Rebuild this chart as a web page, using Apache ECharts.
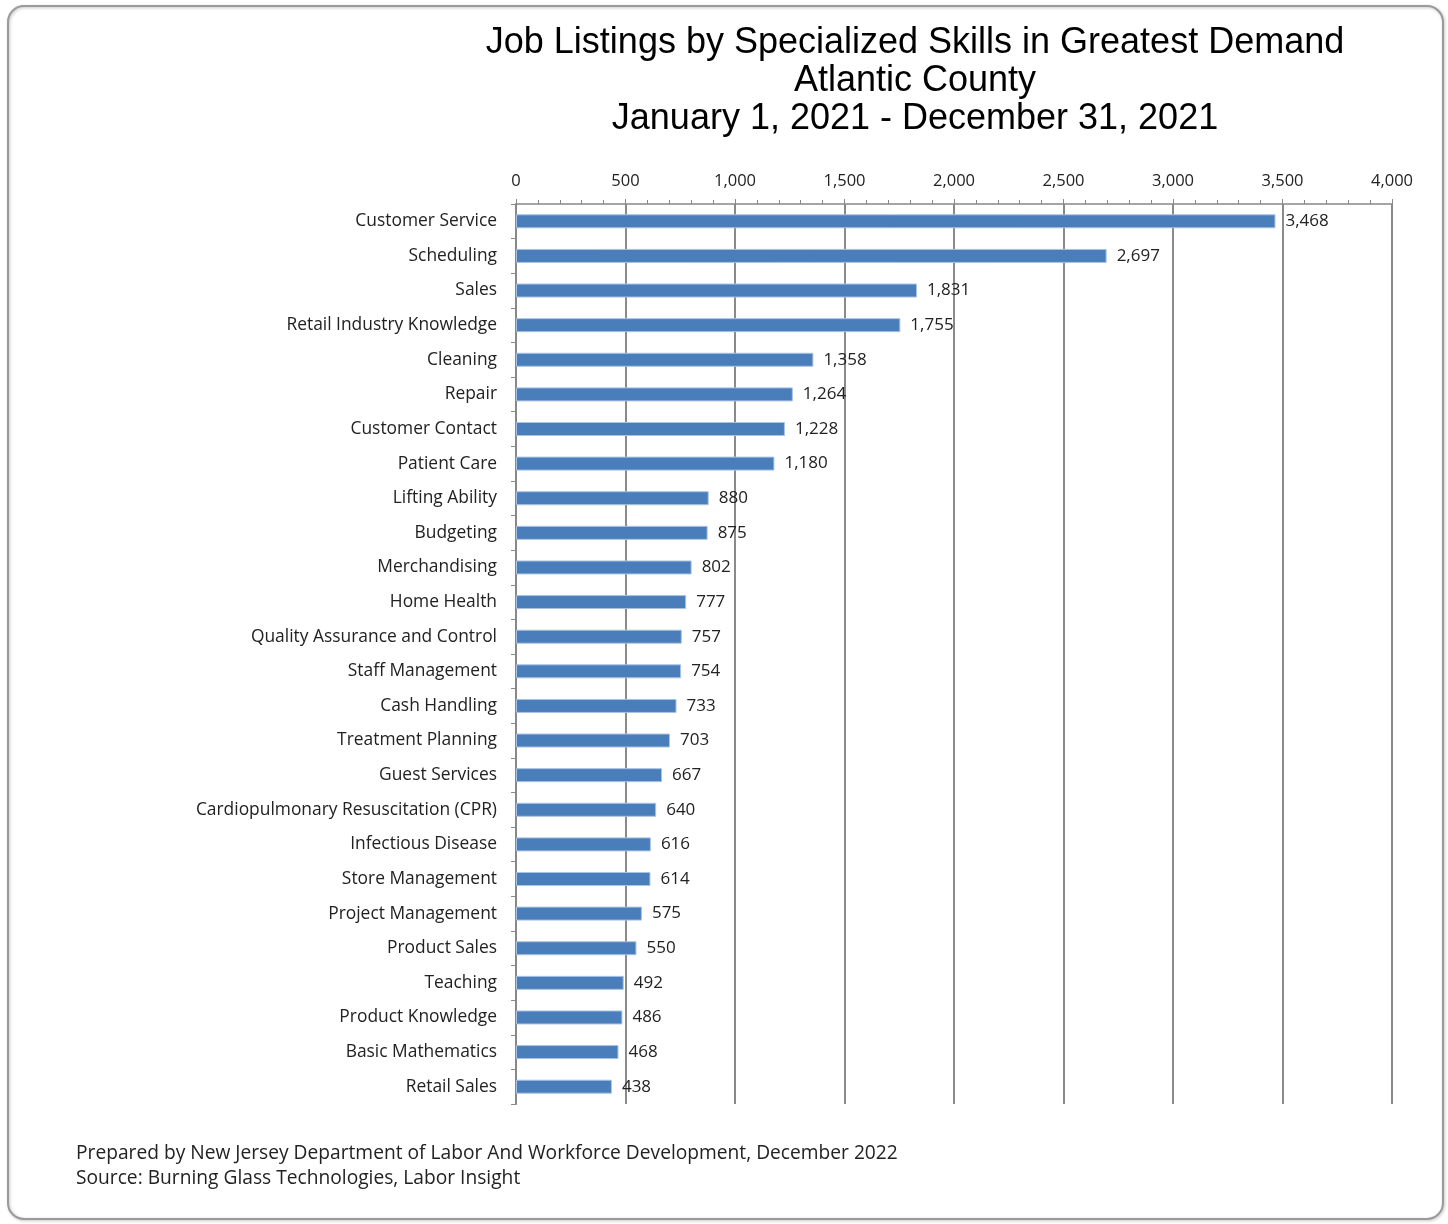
<!DOCTYPE html>
<html lang="en">
  <head>
    <meta charset="UTF-8" />
    <title>Job Listings by Specialized Skills</title>
    <script src="https://cdn.jsdelivr.net/npm/echarts@6/dist/echarts.min.js"></script>
    <style>
      html, body { margin: 0; padding: 0; background: #fff; }
    </style>
  </head>
  <body>
    <div id="main" style="width: 1448px; height: 1224px"></div>
    <script>
      // 数据
      var skills = [
        "Customer Service", "Scheduling", "Sales", "Retail Industry Knowledge",
        "Cleaning", "Repair", "Customer Contact", "Patient Care",
        "Lifting Ability", "Budgeting", "Merchandising", "Home Health",
        "Quality Assurance and Control", "Staff Management", "Cash Handling",
        "Treatment Planning", "Guest Services", "Cardiopulmonary Resuscitation (CPR)",
        "Infectious Disease", "Store Management", "Project Management",
        "Product Sales", "Teaching", "Product Knowledge", "Basic Mathematics",
        "Retail Sales"
      ];
      var listings = [
        3468, 2697, 1831, 1755, 1358, 1264, 1228, 1180, 880, 875, 802, 777,
        757, 754, 733, 703, 667, 640, 616, 614, 575, 550, 492, 486, 468, 438
      ];
      var titleLines = [
        "Job Listings by Specialized Skills in Greatest Demand",
        "Atlantic County",
        "January 1, 2021 - December 31, 2021"
      ];
      var notes = [
        "Prepared by New Jersey Department of Labor And Workforce Development, December 2022",
        "Source: Burning Glass Technologies, Labor Insight"
      ];

      var myChart = echarts.init(document.getElementById("main"));
      var labelFont = "'Open Sans', Lato, sans-serif";

      var option = {
        backgroundColor: "#fff",
        title: {
          text: titleLines.join("\n"),
          left: 910,
          textAlign: "center",
          top: 19,
          textStyle: {
            fontFamily: "'Liberation Sans', Arial, sans-serif",
            fontSize: 36,
            fontWeight: "normal",
            color: "#000",
            lineHeight: 38
          }
        },
        graphic: [
          {
            type: "rect",
            shape: { x: 8, y: 6, width: 1435, height: 1213, r: 16 },
            style: {
              fill: "none",
              stroke: "#9a9a9a",
              lineWidth: 2,
              shadowBlur: 3,
              shadowColor: "rgba(0,0,0,0.25)",
              shadowOffsetX: 1,
              shadowOffsetY: 1
            },
            z: -1
          },
          {
            type: "text",
            left: 76,
            top: 1141,
            style: {
              text: notes.join("\n"),
              fontFamily: labelFont,
              fontSize: 19.2,
              lineHeight: 25,
              fill: "#222"
            }
          }
        ],
        grid: { left: 516, right: 56, top: 204, bottom: 120 },
        xAxis: {
          type: "value",
          position: "top",
          min: 0,
          max: 4000,
          interval: 500,
          axisLine: { show: true, lineStyle: { color: "#888", width: 1.5 } },
          axisTick: { show: true, length: 5, inside: false, lineStyle: { color: "#888" } },
          minorTick: { show: true, splitNumber: 5, length: 4, lineStyle: { color: "#888" } },
          splitLine: { show: true, lineStyle: { color: "#8a8a8a", width: 2 } },
          axisLabel: {
            fontFamily: labelFont,
            fontSize: 16.5,
            color: "#222",
            margin: 14,
            formatter: function (v) {
              return v.toLocaleString("en-US");
            }
          }
        },
        yAxis: {
          type: "category",
          inverse: true,
          data: skills,
          axisLine: { show: true, lineStyle: { color: "#888", width: 2 } },
          axisTick: { show: true, length: 5, lineStyle: { color: "#888" } },
          axisLabel: {
            fontFamily: labelFont,
            fontSize: 17.4,
            color: "#222",
            margin: 19
          }
        },
        series: [
          {
            type: "bar",
            data: listings,
            barWidth: 14,
            itemStyle: {
              color: "#4a7ebb",
              borderColor: "#a9c3e3",
              borderWidth: 1
            },
            label: {
              show: true,
              position: "right",
              distance: 10,
              fontFamily: labelFont,
              fontSize: 17,
              color: "#222",
              formatter: function (p) {
                return p.value.toLocaleString("en-US");
              }
            }
          }
        ]
      };
      myChart.setOption(option);
    </script>
  </body>
</html>
